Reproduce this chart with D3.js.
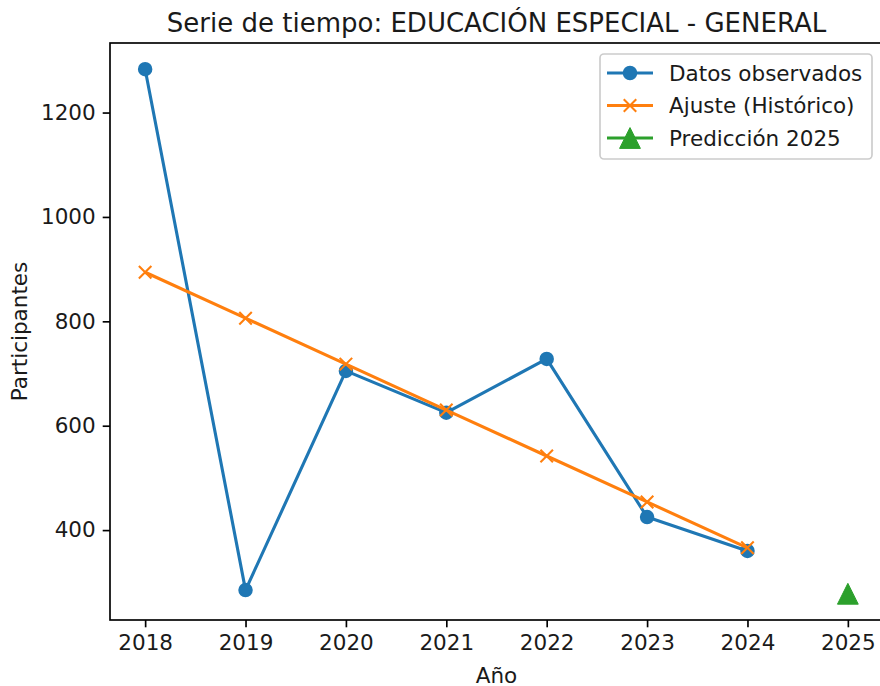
<!DOCTYPE html>
<html>
<head>
<meta charset="utf-8">
<script src="https://cdn.jsdelivr.net/npm/d3@7"></script>
<style>
  body { margin: 0; background: #fff; }
  svg { display: block; font-family: "DejaVu Sans", sans-serif; }
</style>
</head>
<body>
<div id="chart"></div>
<script>
const svgWidth = 880;
const svgHeight = 686;

// Data
const years = [2018, 2019, 2020, 2021, 2022, 2023, 2024];
const observed = [1283, 285, 705, 625, 728, 425, 360];
const fitted = [894, 806, 718, 630, 542, 454, 366];
const predYear = [2025];
const predicted = [278];
const xTicks = [2018, 2019, 2020, 2021, 2022, 2023, 2024, 2025];
const yTicks = [400, 600, 800, 1000, 1200];

const titleText = 'Serie de tiempo: EDUCACIÓN ESPECIAL - GENERAL';
const legendLabels = ['Datos observados', 'Ajuste (Histórico)', 'Predicción 2025'];
const colors = ['#1f77b4', '#ff7f0e', '#2ca02c'];

// plot box (matplotlib-like, 150 dpi)
const box = { left: 110, right: 883, top: 43, bottom: 620 };
const fontSize = 21.5;
const lw = 3.1;

const svg = d3.select('#chart').append('svg').attr('width', svgWidth).attr('height', svgHeight);

// 5% margins like matplotlib autoscale
const allX = years.concat(predYear);
const allY = observed.concat(fitted, predicted);
const xMin = d3.min(allX), xMax = d3.max(allX);
const yMin = d3.min(allY), yMax = d3.max(allY);
const xPad = (xMax - xMin) * 0.05, yPad = (yMax - yMin) * 0.05;

const x = d3.scaleLinear().domain([xMin - xPad, xMax + xPad]).range([box.left, box.right]);
const y = d3.scaleLinear().domain([yMin - yPad, yMax + yPad]).range([box.bottom, box.top]);

// axes
const xAxis = svg.append('g')
  .attr('transform', `translate(0,${box.bottom})`)
  .call(d3.axisBottom(x).tickValues(xTicks).tickFormat(d3.format('d')).tickSize(7.3).tickPadding(7));
const yAxis = svg.append('g')
  .attr('transform', `translate(${box.left},0)`)
  .call(d3.axisLeft(y).tickValues(yTicks).tickFormat(d3.format('d')).tickSize(7.3).tickPadding(7));

[xAxis, yAxis].forEach(a => {
  a.select('.domain').remove();
  a.selectAll('line').attr('stroke', '#000').attr('stroke-width', 1.67);
  a.selectAll('text').attr('fill', '#1a1a1a').style('font-size', fontSize + 'px').style('font-family', 'DejaVu Sans');
});

// frame
svg.append('rect')
  .attr('x', box.left).attr('y', box.top)
  .attr('width', box.right - box.left).attr('height', box.bottom - box.top)
  .attr('fill', 'none').attr('stroke', '#000').attr('stroke-width', 1.67);

const line = d3.line().x(d => x(d[0])).y(d => y(d[1]));

// observed
const obsPts = years.map((yr, i) => [yr, observed[i]]);
svg.append('path').datum(obsPts).attr('d', line)
  .attr('fill', 'none').attr('stroke', colors[0]).attr('stroke-width', lw).attr('stroke-linejoin', 'round');
svg.selectAll('.obs').data(obsPts).enter().append('circle')
  .attr('cx', d => x(d[0])).attr('cy', d => y(d[1])).attr('r', 6.25)
  .attr('fill', colors[0]).attr('stroke', colors[0]).attr('stroke-width', 2);

// fitted
const fitPts = years.map((yr, i) => [yr, fitted[i]]);
svg.append('path').datum(fitPts).attr('d', line)
  .attr('fill', 'none').attr('stroke', colors[1]).attr('stroke-width', lw).attr('stroke-linejoin', 'round');

function xMark(g, cx, cy, color) {
  const s = 6.25;
  g.append('path')
    .attr('d', `M${cx - s},${cy - s}L${cx + s},${cy + s}M${cx - s},${cy + s}L${cx + s},${cy - s}`)
    .attr('stroke', color).attr('stroke-width', 2.08).attr('fill', 'none');
}
function triMark(g, cx, cy, color) {
  const s = 10.4;
  g.append('path')
    .attr('d', `M${cx},${cy - s}L${cx - s},${cy + s}L${cx + s},${cy + s}Z`)
    .attr('fill', color).attr('stroke', color).attr('stroke-width', 1);
}
fitPts.forEach(d => xMark(svg, x(d[0]), y(d[1]), colors[1]));

// prediction
const predPts = predYear.map((yr, i) => [yr, predicted[i]]);
predPts.forEach(d => triMark(svg, x(d[0]), y(d[1]), colors[2]));

// title and labels
svg.append('text')
  .attr('x', (box.left + box.right) / 2).attr('y', 32)
  .attr('text-anchor', 'middle').style('font-size', '26px').attr('fill', '#1a1a1a')
  .text(titleText);

svg.append('text')
  .attr('x', (box.left + box.right) / 2).attr('y', 683)
  .attr('text-anchor', 'middle').style('font-size', fontSize + 'px').attr('fill', '#1a1a1a')
  .text('Año');

svg.append('text')
  .attr('transform', `translate(27,${(box.top + box.bottom) / 2}) rotate(-90)`)
  .attr('text-anchor', 'middle').style('font-size', fontSize + 'px').attr('fill', '#1a1a1a')
  .text('Participantes');

// legend
const leg = svg.append('g');
leg.append('rect')
  .attr('x', 600).attr('y', 54).attr('width', 272).attr('height', 105).attr('rx', 4)
  .attr('fill', '#fff').attr('fill-opacity', 0.8).attr('stroke', '#cccccc').attr('stroke-width', 1.67);
const rowY = [73, 105.5, 138];
legendLabels.forEach((lab, i) => {
  leg.append('line').attr('x1', 607).attr('x2', 653).attr('y1', rowY[i]).attr('y2', rowY[i])
    .attr('stroke', colors[i]).attr('stroke-width', lw);
  if (i === 0) {
    leg.append('circle').attr('cx', 630).attr('cy', rowY[i]).attr('r', 6.25)
      .attr('fill', colors[0]).attr('stroke', colors[0]).attr('stroke-width', 2);
  } else if (i === 1) {
    xMark(leg, 630, rowY[i], colors[1]);
  } else {
    triMark(leg, 630, rowY[i], colors[2]);
  }
  leg.append('text').attr('x', 669).attr('y', rowY[i] + 7.5)
    .style('font-size', fontSize + 'px').attr('fill', '#1a1a1a').text(lab);
});
</script>
</body>
</html>
